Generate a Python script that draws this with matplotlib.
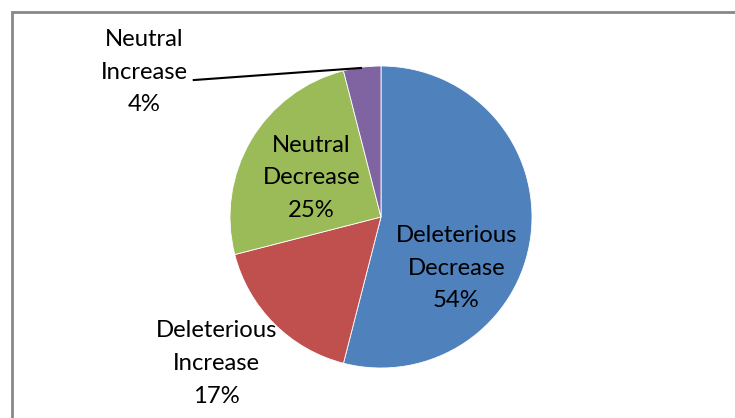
import matplotlib
matplotlib.use("Agg")
import matplotlib.pyplot as plt
from matplotlib.patches import Rectangle

labels = ["Deleterious\nDecrease", "Deleterious\nIncrease", "Neutral\nDecrease", "Neutral\nIncrease"]
values = [54, 17, 25, 4]
colors = ["#4F81BD", "#C0504D", "#9BBB59", "#8064A2"]

# label positions (data coords, pie radius = 1)
label_pos = [(0.50, -0.34), (-1.09, -0.97), (-0.46, 0.26), (-1.57, 0.96)]

plt.rcParams['font.family'] = ['Lato', 'DejaVu Sans']

W, H = 735, 418
fig = plt.figure(figsize=(W / 100, H / 100), dpi=100)

# chart border (grey, runs off the right and bottom edges)
fig.patches.append(Rectangle((12 / W, -0.1), 1.2, 1 - 12 / H + 0.1,
                             transform=fig.transFigure, fill=False,
                             edgecolor="#888888", lw=2.0))

cx, cy, r = 381, 217, 151
ax = fig.add_axes([(cx - r) / W, 1 - (cy + r) / H, 2 * r / W, 2 * r / H])
ax.pie(values, colors=colors, startangle=90, counterclock=False, radius=1,
       wedgeprops=dict(edgecolor="white", linewidth=0.6))
ax.set_xlim(-1, 1)
ax.set_ylim(-1, 1)
ax.set_aspect("equal")
ax.axis("off")

for lab, v, (x, y) in zip(labels, values, label_pos):
    ax.text(x, y, "{}\n{}%".format(lab, v), ha="center", va="center",
            fontsize=17.2, linespacing=1.68, color="black", clip_on=False)

# leader line for the small slice
ax.plot([-1.24, -0.132], [0.907, 0.987], color="black", lw=1.5, clip_on=False)

fig.savefig("out.png", dpi=100)
